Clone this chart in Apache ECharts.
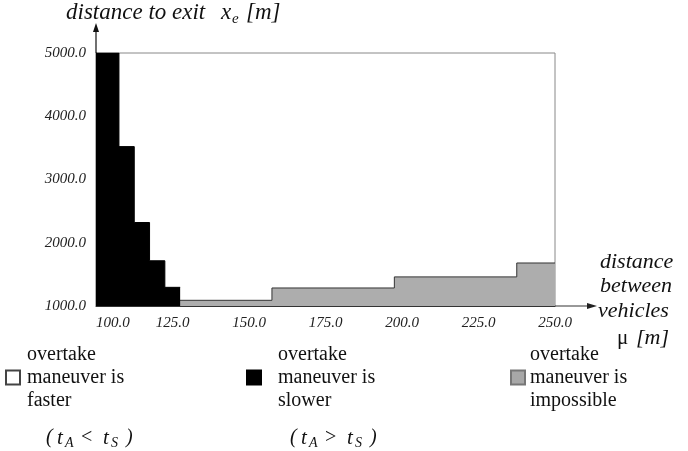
<!DOCTYPE html>
<html><head><meta charset="utf-8">
<script src="https://cdn.jsdelivr.net/npm/echarts@6/dist/echarts.min.js"></script>
<style>html,body{margin:0;padding:0;background:#fff}#c{width:688px;height:451px}</style>
</head><body><div id="c"></div>
<script>
// ---- data ----
const xTicks = [100, 125, 150, 175, 200, 225, 250];
const yTicks = [1000, 2000, 3000, 4000, 5000];
const slowerEdges = [100, 107.5, 112.5, 117.5, 122.5, 127.5];
const slowerValues = [5000, 3520, 2320, 1715, 1295];
const impossibleEdges = [117.5, 157.5, 197.5, 237.5, 250];
const impossibleValues = [1090, 1285, 1460, 1680];
const legendNames = ['overtake\nmaneuver is\nfaster', 'overtake\nmaneuver is\nslower', 'overtake\nmaneuver is\nimpossible'];

const SERIF = '"Liberation Serif", "DejaVu Serif", serif';
function stepData(edges, values) {
  const d = edges.slice(0, -1).map((e, i) => [e, values[i]]);
  d.push([edges[edges.length - 1], values[values.length - 1]]);
  return d;
}

const chart = echarts.init(document.getElementById('c'), null, { renderer: 'canvas' });

const option = {
  animation: false,
  backgroundColor: '#fff',
  grid: { left: 96, right: 133, top: 53, bottom: 145, show: true, borderColor: '#888', borderWidth: 1, backgroundColor: 'transparent' },
  xAxis: {
    type: 'value', min: xTicks[0], max: xTicks[xTicks.length - 1], interval: 25,
    axisLine: { show: true, lineStyle: { color: '#333', width: 1 } },
    axisTick: { show: false }, splitLine: { show: false },
    axisLabel: { formatter: v => v.toFixed(1), fontFamily: SERIF, fontStyle: 'italic', fontSize: 15, color: '#222', margin: 10, alignMinLabel: 'left' }
  },
  yAxis: {
    type: 'value', min: yTicks[0], max: yTicks[yTicks.length - 1], interval: 1000,
    axisLine: { show: true, lineStyle: { color: '#111', width: 1.2 } },
    axisTick: { show: false }, splitLine: { show: false },
    axisLabel: { formatter: v => v.toFixed(1), fontFamily: SERIF, fontStyle: 'italic', fontSize: 15, color: '#222', margin: 10 }
  },
  legend: [0, 1, 2].map(i => ({
    data: [legendNames[i]],
    left: [5, 246, 510][i], top: 343, padding: 0,
    icon: 'rect', itemWidth: 14, itemHeight: 14, selectedMode: false,
    textStyle: { fontFamily: SERIF, fontSize: 20, lineHeight: 23, color: '#111', padding: [0, 0, 0, [2, 12, 0][i]] }
  })),
  series: [
    {
      name: 'impossible-area', type: 'line', step: 'end', symbol: 'none', z: 2,
      data: stepData(impossibleEdges, impossibleValues),
      lineStyle: { color: '#333', width: 1 },
      areaStyle: { color: '#adadad', opacity: 1, origin: 'start' }
    },
    {
      name: 'slower-area', type: 'line', step: 'end', symbol: 'none', z: 3,
      data: stepData(slowerEdges, slowerValues),
      lineStyle: { color: '#000', width: 1 },
      areaStyle: { color: '#000', opacity: 1, origin: 'start' }
    },
    { name: legendNames[0], type: 'bar', data: [], itemStyle: { color: '#fff', borderColor: '#444', borderWidth: 1 } },
    { name: legendNames[1], type: 'bar', data: [], itemStyle: { color: '#000', borderColor: '#000', borderWidth: 1 } },
    { name: legendNames[2], type: 'bar', data: [], itemStyle: { color: '#a8a8a8', borderColor: '#777', borderWidth: 1 } }
  ]
};
chart.setOption(option);

// ---- decorations: axis arrows and text labels ----
function fontStr(size, italic) { return (italic ? 'italic ' : '') + size + 'px ' + SERIF; }
function txt(x, y, t, size, italic) {
  return { type: 'text', x, y, style: { text: t, font: fontStr(size, italic), fill: '#111', verticalAlign: 'middle', align: 'left' } };
}

const pTL = chart.convertToPixel({ gridIndex: 0 }, [xTicks[0], yTicks[yTicks.length - 1]]);
const pBR = chart.convertToPixel({ gridIndex: 0 }, [xTicks[xTicks.length - 1], yTicks[0]]);
const ax = pTL[0], ay = pBR[1], rx = pBR[0];

const graphics = [
  { type: 'line', shape: { x1: ax, y1: pTL[1], x2: ax, y2: 30 }, style: { stroke: '#111', lineWidth: 1.2 } },
  { type: 'polygon', shape: { points: [[ax, 23], [ax - 3, 32], [ax + 3, 32]] }, style: { fill: '#111' } },
  { type: 'line', shape: { x1: rx, y1: ay, x2: 590, y2: ay }, style: { stroke: '#333', lineWidth: 1 } },
  { type: 'polygon', shape: { points: [[597, ay], [587, ay - 3], [587, ay + 3]] }, style: { fill: '#222' } },
  // title
  txt(66, 13, 'distance to exit', 23, true),
  txt(221, 13, 'x', 23, true),
  txt(232, 19, 'e', 15, true),
  txt(246, 13, '[m]', 23, true),
  // x-axis name
  txt(600, 262, 'distance', 22, true),
  txt(600, 286.5, 'between', 22, true),
  txt(598, 311, 'vehicles', 22, true),
  txt(617, 338, 'μ', 21, false),
  txt(636, 338, '[m]', 22, true),
  // conditions under legend
  txt(46, 438, '(', 20, true), txt(57, 438, 't', 21, true), txt(65, 443, 'A', 14, true),
  txt(81, 438, '<', 20, false), txt(103, 438, 't', 21, true), txt(111, 443, 'S', 14, true), txt(126, 438, ')', 20, true),
  txt(290, 438, '(', 20, true), txt(301, 438, 't', 21, true), txt(309, 443, 'A', 14, true),
  txt(325, 438, '>', 20, false), txt(347, 438, 't', 21, true), txt(355, 443, 'S', 14, true), txt(370, 438, ')', 20, true)
];
chart.setOption({ graphic: graphics });
</script></body></html>
